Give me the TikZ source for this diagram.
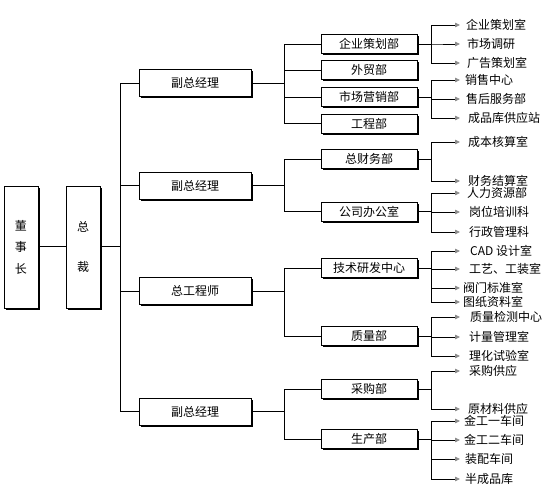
\documentclass[tikz,border=0pt]{standalone}
\usepackage{fontspec}
\newfontfamily\cjk{Noto Sans CJK SC}
\usetikzlibrary{shadows,arrows.meta}
\begin{document}
\begin{tikzpicture}[x=1pt,y=-1pt,
 box/.style={draw=black,line width=0.8pt,fill=white,inner sep=0pt,
   font=\cjk\fontsize{12}{14}\selectfont,
   drop shadow={shadow xshift=1.6pt,shadow yshift=-1.6pt,fill=black,opacity=1}},
 topbox/.style={box,minimum width=34pt,minimum height=122pt,align=center},
 l2/.style={box,minimum width=112pt,minimum height=27pt},
 l3/.style={box,minimum width=96pt,minimum height=19pt},
 leaf/.style={anchor=west,inner ysep=0pt,font=\cjk\fontsize{12}{14}\selectfont},
 ln/.style={line width=0.8pt},
 arr/.style={ln,-{Triangle[length=5pt,width=4.5pt,color=black!45]}}
]
\useasboundingbox (0,0) rectangle (550,500);

% top boxes
\node[topbox,font=\cjk\fontsize{12}{21.5}\selectfont] (dsz) at (21,247) {董\\事\\长};
\node[topbox,font=\cjk\fontsize{12}{40}\selectfont] (zc) at (83,247) {总\\裁};
\draw[ln] (dsz.east |- 0,246) -- (zc.west |- 0,246);
\coordinate (trunk) at (120,246);
\draw[ln] (zc.east |- trunk) -- (trunk);

% level 2
\node[l2] (A) at (195,83) {副总经理};
\node[l2] (B) at (195,185.5) {副总经理};
\node[l2] (C) at (195,291) {总工程师};
\node[l2] (D) at (195,411.5) {副总经理};
\foreach \n in {A,B,C,D} \draw[ln] (trunk) |- (\n.west);

% level 3
\node[l3] (A1) at (369,44) {企业策划部};
\node[l3] (A2) at (369,70) {外贸部};
\node[l3] (A3) at (369,97) {市场营销部};
\node[l3] (A4) at (369,123.5) {工程部};
\node[l3] (B1) at (369,159) {总财务部};
\node[l3] (B2) at (369,211.5) {公司办公室};
\node[l3] (C1) at (369,268) {技术研发中心};
\node[l3] (C2) at (369,336) {质量部};
\node[l3] (D1) at (369,389) {采购部};
\node[l3] (D2) at (369,439) {生产部};
\foreach \c in {A1,A2,A3,A4} \draw[ln] (A.east) -- ++(33,0) |- (\c.west);
\foreach \c in {B1,B2} \draw[ln] (B.east) -- ++(33,0) |- (\c.west);
\foreach \c in {C1,C2} \draw[ln] (C.east) -- ++(33,0) |- (\c.west);
\foreach \c in {D1,D2} \draw[ln] (D.east) -- ++(33,0) |- (\c.west);

% leaves: parent / name / y / text x-offset / text
\foreach \p/\n/\y/\d/\t in {
  A1/a11/25/6/企业策划室, A1/a12/44/7/市场调研, A1/a13/63/7/广告策划室,
  A3/a31/80/5/销售中心, A3/a32/99/6/售后服务部, A3/a33/118/8/成品库供应站,
  B1/b11/142/8/成本核算室, B1/b12/181/8/财务结算室,
  B2/b21/193/7/人力资源部, B2/b22/212/9/岗位培训科, B2/b23/232/9/行政管理科,
  C1/c11/251/10/CAD 设计室, C1/c12/269/9/工艺、工装室, C1/c13/288/3/阀门标准室, C1/c14/302/3/图纸资料室,
  C2/c21/317/10/质量检测中心, C2/c22/337/9/计量管理室, C2/c23/356/9/理化试验室,
  D1/d11/371/9/采购供应, D1/d12/409/8/原材料供应,
  D2/d21/421/4/金工一车间, D2/d22/440/4/金工二车间, D2/d23/459/5/装配车间, D2/d24/479/5/半成品库}
{
  \node[leaf,inner xsep=\d pt] (\n) at (460,\y) {\t};
  \draw[arr] (\p.east) -- ++(14,0) |- (\n.west);
}
\end{tikzpicture}
\end{document}
